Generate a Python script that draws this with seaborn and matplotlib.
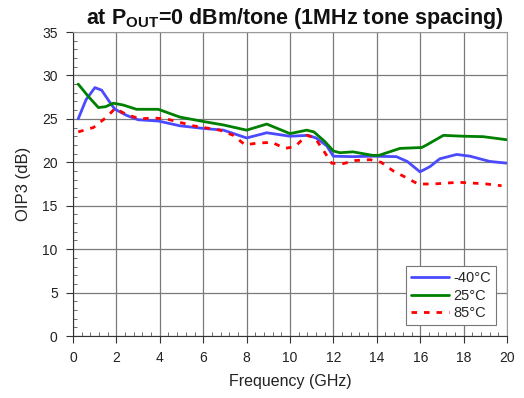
import matplotlib
matplotlib.use("Agg")
import matplotlib.pyplot as plt
from matplotlib.ticker import MultipleLocator
import seaborn as sns
import pandas as pd

# OIP3 versus frequency at three temperatures
freq_m40 = [0.24, 0.6, 1.01, 1.32, 1.78, 1.94, 2.47, 3.0, 3.93, 4.93, 6.0, 6.93, 8.0,
            8.93, 10.0, 10.84, 11.2, 11.69, 12.0, 12.9, 13.8, 14.9, 15.4, 15.99, 16.45,
            16.9, 17.68, 18.3, 19.2, 19.98]
oip3_m40 = [25.0, 27.2, 28.6, 28.3, 26.6, 26.1, 25.4, 24.9, 24.75, 24.2, 23.9, 23.7, 22.8,
            23.4, 23.0, 23.1, 22.8, 21.9, 20.7, 20.65, 20.7, 20.65, 20.1, 18.9, 19.5,
            20.4, 20.9, 20.7, 20.1, 19.9]

freq_25 = [0.24, 0.7, 1.17, 1.5, 1.86, 2.3, 2.93, 3.93, 4.93, 6.0, 6.93, 8.0, 8.93, 10.0,
           10.77, 11.1, 11.6, 12.0, 12.3, 12.9, 13.8, 14.1, 15.07, 16.07, 16.3, 17.07,
           17.99, 18.9, 19.98]
oip3_25 = [29.0, 27.6, 26.3, 26.4, 26.8, 26.6, 26.1, 26.1, 25.2, 24.7, 24.3, 23.7, 24.4, 23.3,
           23.7, 23.5, 22.4, 21.3, 21.1, 21.2, 20.8, 20.8, 21.6, 21.7, 22.0, 23.1,
           23.0, 22.95, 22.6]

freq_85 = [0.24, 0.94, 1.55, 1.94, 2.47, 3.09, 3.7, 4.3, 5.54, 6.77, 7.39, 7.93, 8.46,
           9.16, 9.77, 10.23, 10.77, 11.15, 11.53, 11.92, 12.38, 13.0, 13.7, 14.2,
           14.76, 15.38, 15.9, 16.6, 17.76, 18.45, 19.06, 19.75]
oip3_85 = [23.5, 24.0, 25.2, 26.2, 25.5, 25.0, 25.1, 25.0, 24.2, 23.7, 23.1, 22.0, 22.2,
           22.3, 21.6, 21.8, 23.1, 22.8, 21.4, 19.9, 19.8, 20.2, 20.3, 20.0,
           19.0, 18.2, 17.5, 17.5, 17.7, 17.6, 17.5, 17.3]

temps = ["-40°C", "25°C", "85°C"]
colors = ["#4a4aff", "#008000", "#ff0000"]

df = pd.concat([
    pd.DataFrame({"freq": freq_m40, "oip3": oip3_m40, "temp": temps[0]}),
    pd.DataFrame({"freq": freq_25, "oip3": oip3_25, "temp": temps[1]}),
    pd.DataFrame({"freq": freq_85, "oip3": oip3_85, "temp": temps[2]}),
])

sns.set_style("ticks")
plt.rcParams["font.family"] = ["Liberation Sans", "DejaVu Sans"]
plt.rcParams["mathtext.fontset"] = "custom"
plt.rcParams["mathtext.rm"] = "Liberation Sans"
plt.rcParams["mathtext.bf"] = "Liberation Sans:bold"

fig = plt.figure(figsize=(5.24, 3.98), dpi=100)
ax = fig.add_axes([73 / 524, 62 / 398, 434 / 524, 304 / 398])

sns.lineplot(data=df, x="freq", y="oip3", hue="temp", style="temp",
             hue_order=temps, style_order=temps,
             palette=dict(zip(temps, colors)),
             dashes={temps[0]: "", temps[1]: "", temps[2]: (2, 2.5)},
             linewidth=2, sort=False, estimator=None, ax=ax)

ax.set_xlim(0, 20)
ax.set_ylim(0, 35)
ax.xaxis.set_major_locator(MultipleLocator(2))
ax.xaxis.set_minor_locator(MultipleLocator(0.4))
ax.yaxis.set_major_locator(MultipleLocator(5))
ax.yaxis.set_minor_locator(MultipleLocator(1))
ax.tick_params(which="major", direction="out", length=5, width=0.8,
               color="#333333", labelsize=10, labelcolor="#222222", pad=6)
ax.tick_params(which="minor", direction="in", length=3, width=0.6, color="#555555")
ax.grid(which="major", color="#7a7a7a", linewidth=0.9)
for side in ["left", "bottom"]:
    ax.spines[side].set_color("#333333")
for side in ["top", "right"]:
    ax.spines[side].set_color("#9a9a9a")

ax.set_xlabel("Frequency (GHz)", fontsize=11.5, color="#222222", labelpad=6)
ax.set_ylabel("OIP3 (dB)", fontsize=12, color="#222222", labelpad=8)
ax.set_title(r"at P$_{\mathbf{OUT}}$=0 dBm/tone (1MHz tone spacing)",
             fontsize=15.5, fontweight="bold", color="#111111", pad=6, x=0.51)

leg = ax.legend(loc="lower right", bbox_to_anchor=(0.975, 0.035), title=None,
                fontsize=10.5, frameon=True, fancybox=False, framealpha=1,
                edgecolor="#777777", handlelength=2.6, handletextpad=0.3,
                borderpad=0.35, labelspacing=0.25, borderaxespad=0)
leg.get_frame().set_linewidth(0.8)

fig.savefig("out.png", dpi=100)
